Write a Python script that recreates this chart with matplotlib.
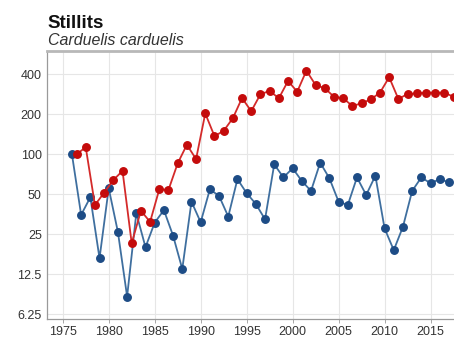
import matplotlib
matplotlib.use("Agg")
import matplotlib.pyplot as plt
from matplotlib.ticker import FixedLocator, NullLocator

plt.rcParams['font.family'] = ['Liberation Sans', 'DejaVu Sans']

title = "Stillits"
subtitle = "Carduelis carduelis"

blue_years = list(range(1976, 2018))
blue_values = [100, 35, 47.5, 16.5, 55.5, 26, 8.5, 36, 20, 30.6,
               38, 24.4, 13.7, 44, 30.8, 54.5, 48.6, 34, 65, 51,
               42.3, 32.4, 84, 67, 78.5, 63, 53, 86.5, 66, 44,
               41.5, 67, 49.4, 69, 27.7, 19, 28.5, 53, 67, 60.5,
               65, 61.5]

red_years = [y + 0.5 for y in range(1976, 2018)]
red_values = [100, 113, 41.5, 51.4, 64, 75, 21.4, 37.6, 31, 54.5,
              54, 85.5, 118, 92, 203, 137, 150, 187, 265, 211,
              283, 300, 264, 356, 296, 426, 332, 314, 271, 264,
              231, 242, 259, 291, 380, 261, 284, 287, 291, 291,
              291, 271]

y_ticks = [6.25, 12.5, 25, 50, 100, 200, 400]
y_tick_labels = ["6.25", "12.5", "25", "50", "100", "200", "400"]
x_ticks = [1975, 1980, 1985, 1990, 1995, 2000, 2005, 2010, 2015]

fig = plt.figure(figsize=(4.54, 3.4), dpi=100)
ax = fig.add_axes([47.3/454, 1 - 319.3/340, 1 - 47.3/454 + 0.002, (319.3 - 50.7)/340])

ax.plot(blue_years, blue_values, color='#3f6f9f', lw=1.3, zorder=3,
        marker='o', markersize=5.4, markerfacecolor='#1d4c86', markeredgecolor='#1d4c86')
ax.plot(red_years, red_values, color='#d42a2a', lw=1.3, zorder=4,
        marker='o', markersize=5.4, markerfacecolor='#c40b0b', markeredgecolor='#c40b0b')

ax.set_yscale('log')
ax.set_ylim(5.73, 602)
ax.set_xlim(1973.32, 2017.65)
ax.yaxis.set_major_locator(FixedLocator(y_ticks))
ax.set_yticklabels(y_tick_labels)
ax.yaxis.set_minor_locator(NullLocator())
ax.set_xticks(x_ticks)
ax.set_xticklabels([str(x) for x in x_ticks])

ax.grid(True, color='#e6e6e6', lw=0.8, zorder=0)
ax.set_axisbelow(True)
for side in ['left', 'bottom']:
    ax.spines[side].set_color('#9a9a9a')
    ax.spines[side].set_linewidth(0.9)
ax.spines['top'].set_color('#b8b8b8')
ax.spines['top'].set_linewidth(2.0)
ax.spines['right'].set_visible(False)

ax.tick_params(axis='both', labelsize=9, colors='#333333', length=3, width=0.6)
ax.tick_params(axis='y', length=0, pad=4)
ax.tick_params(axis='x', color='#999999', pad=2)

fig.text(47/454, 1 - 28.5/340, title, fontsize=13.5, fontweight='bold', color='#111111',
         ha='left', va='baseline')
fig.text(47.5/454, 1 - 45/340, subtitle, fontsize=11.5, style='italic', color='#333333',
         ha='left', va='baseline')

fig.savefig("out.png", dpi=100)
